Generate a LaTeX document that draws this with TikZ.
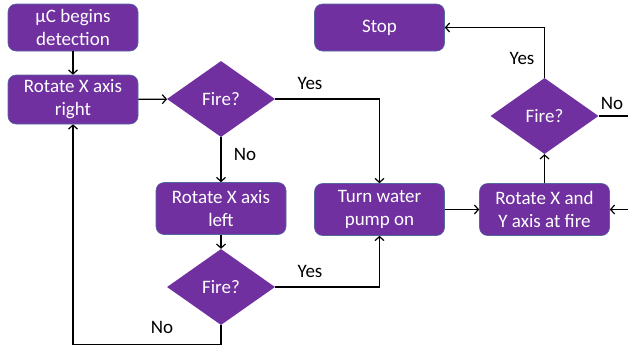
\documentclass[tikz,border=0pt]{standalone}
\usepackage{fontspec}
\setmainfont{Carlito}
\usetikzlibrary{shapes.geometric,arrows.meta}
\definecolor{flowpurple}{RGB}{112,48,160}
\definecolor{flowedge}{RGB}{84,104,160}
\begin{document}
\begin{tikzpicture}[x=1pt,y=-1pt,
		every node/.style={font=\fontsize{19}{23}\selectfont},
		procbox/.style={rectangle,rounded corners=8pt,fill=flowpurple,draw=flowedge,line width=0.6pt,
			text=white,align=center,minimum width=130pt,minimum height=52pt,inner sep=0pt},
		topbox/.style={procbox,minimum height=47pt},
		decide/.style={diamond,fill=flowpurple,text=white,inner sep=0pt,aspect=1.42,
			minimum width=108pt,minimum height=76pt},
		flow/.style={line width=1.2pt,-{Straight Barb[length=4pt,width=9pt]}},
		plain/.style={line width=1.2pt}]
		\useasboundingbox (0,0) rectangle (628,349);
		% boxes
		\node [topbox] (begin) at (73,27.5) {µC begins\\detection};
		\node [procbox,minimum height=49pt] (rotright) at (73,99.5) {Rotate X axis\\right};
		\node [decide] (fireA) at (221,99) {Fire?};
		\node [procbox] (rotleft) at (221,208.5) {Rotate X axis\\left};
		\node [decide] (fireB) at (221,287) {Fire?};
		\node [procbox] (pump) at (379.5,209.5) {Turn water\\pump on};
		\node [procbox] (rotxy) at (544.5,209.5) {Rotate X and\\Y axis at fire};
		\node [decide] (fireC) at (544.5,116) {Fire?};
		\node [topbox] (stop) at (379.5,27.5) {Stop};
		\coordinate (inright) at (628,209.5);
		\coordinate (outright) at (628,116);
		% connectors
		\draw [flow] (begin) -- (rotright);
		\draw [flow] (rotright) -- (fireA);
		\draw [flow] (fireA.east) -| (pump.north);
		\draw [flow] (fireA) -- (rotleft);
		\draw [flow] (rotleft) -- (fireB);
		\draw [flow] (fireB.east) -| (pump.south);
		\draw [flow] (fireB.south) -- ++(0,19) -| (rotright.south);
		\draw [flow] (pump) -- (rotxy);
		\draw [flow] (inright) -- (rotxy.east);
		\draw [flow] (rotxy) -- (fireC);
		\draw [flow] (fireC.north) |- (stop.east);
		\draw [plain] (fireC.east) -- (outright);
		% labels
		\node (yesA) at (310,83) {Yes};
		\node (noA) at (245,154) {No};
		\node (yesB) at (310,271) {Yes};
		\node (noB) at (162,327) {No};
		\node (yesC) at (522,58) {Yes};
		\node (noC) at (612,103) {No};
	\end{tikzpicture}
\end{document}
